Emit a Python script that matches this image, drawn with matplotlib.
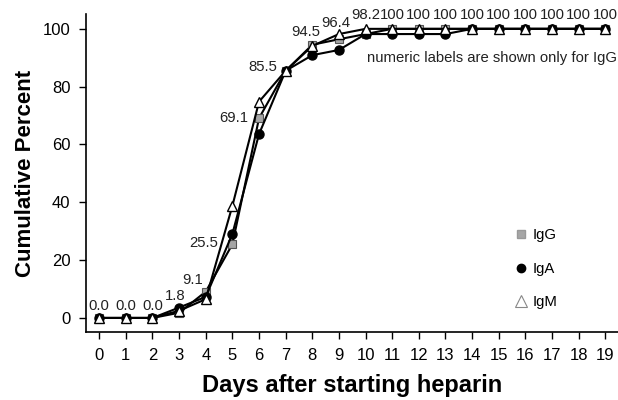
import matplotlib
matplotlib.use("Agg")
import matplotlib.pyplot as plt
from matplotlib.lines import Line2D

plt.rcParams["font.family"] = ["Liberation Sans", "DejaVu Sans"]

days = list(range(20))
igg = [0, 0, 0, 1.8, 9.1, 25.5, 69.1, 85.5, 94.5, 96.4, 98.2,
       100, 100, 100, 100, 100, 100, 100, 100, 100]
iga = [0, 0, 0, 3.6, 7.3, 29.1, 63.6, 85.5, 90.9, 92.7, 98.2,
       98.2, 98.2, 98.2, 100, 100, 100, 100, 100, 100]
igm = [0, 0, 0, 2.5, 6.5, 38.8, 74.8, 85.5, 94.1, 98.2, 100,
       100, 100, 100, 100, 100, 100, 100, 100, 100]
igg_labels = [f"{v:.1f}" if v < 100 else "100" for v in igg]

# label placement for IgG values (dx px, dy px, ha)
label_pos = [(0, 12, "center")] * 3 + [
    (-4, 17, "center"), (-13, 12, "center"), (-14, 1, "right"),
    (-11, 0, "right"), (-8, 4, "right"), (-7, 13, "center"),
    (-3, 16, "center"), (0, 19, "center")] + [(0, 14, "center")] * 9

fig = plt.figure(figsize=(6.18, 4.0), dpi=100)
ax = fig.add_axes([0.139, 0.169, 0.862, 0.795])

ax.plot(days, igg, color="black", lw=1.5, marker="s", ms=6.3,
        mfc="#a6a6a6", mec="#555555", mew=0.8, zorder=3)
ax.plot(days, iga, color="black", lw=1.5, marker="o", ms=6.5,
        mfc="black", mec="black", zorder=4)
ax.plot(days, igm, color="black", lw=1.5, marker="^", ms=7,
        mfc="white", mec="black", mew=1.0, zorder=5)

for d, v, lab, (dx, dy, ha) in zip(days, igg, igg_labels, label_pos):
    ax.annotate(lab, (d, v), xytext=(dx, dy), textcoords="offset pixels",
                ha=ha, va="center", fontsize=10.7, color="#222222")

ax.text(19.45, 90, "numeric labels are shown only for IgG", ha="right",
        va="center", fontsize=10.7, color="#222222")

handles = [
    Line2D([], [], ls="none", marker="s", ms=6, mfc="#a6a6a6", mec="#999999"),
    Line2D([], [], ls="none", marker="o", ms=6, mfc="black", mec="black"),
    Line2D([], [], ls="none", marker="^", ms=8, mfc="white", mec="#888888", mew=0.8),
]
ax.legend(handles, ["IgG", "IgA", "IgM"], loc="center left",
          bbox_to_anchor=(0.78, 0.20), frameon=False, fontsize=10.7,
          handlelength=0.8, handletextpad=0.4, labelspacing=1.3)

ax.set_xlim(-0.5, 19.5)
ax.set_ylim(-5, 105)
ax.set_xticks(days)
ax.set_yticks(range(0, 101, 20))
ax.tick_params(labelsize=12, length=5, width=1, direction="out", pad=6)
for s in ["top", "right"]:
    ax.spines[s].set_visible(False)
for s in ["left", "bottom"]:
    ax.spines[s].set_linewidth(1.2)

ax.set_xlabel("Days after starting heparin", fontsize=17, fontweight="bold",
              labelpad=8)
ax.set_ylabel("Cumulative Percent", fontsize=16, fontweight="bold",
              labelpad=5)

fig.savefig("out.png", dpi=100)
